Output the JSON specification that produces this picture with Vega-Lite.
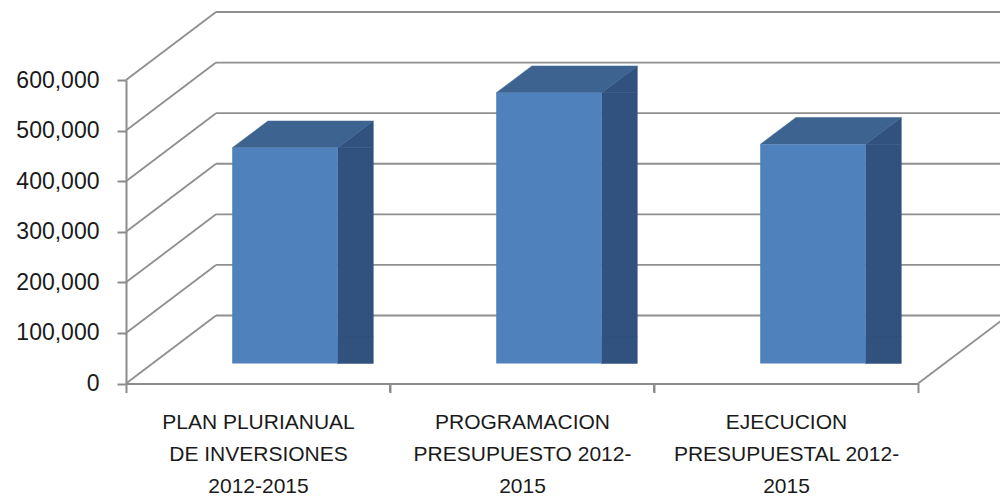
{
  "$schema": "https://vega.github.io/schema/vega-lite/v6.json",
  "autosize": {"type": "none"},
  "width": 792,
  "height": 303.5,
  "padding": {"left": 126, "top": 80, "right": 82, "bottom": 114.5},
  "background": "white",
  "config": {
    "view": {"stroke": null},
    "axis": {"labelFont": "Liberation Sans", "labelColor": "#1a1a1a", "domainColor": "#8c8c8c", "tickColor": "#8c8c8c", "domainWidth": 2, "tickWidth": 2, "tickSize": 9, "grid": false, "title": null}
  },
  "datasets": {
    "budget": [
      {"categoria": "PLAN PLURIANUAL DE INVERSIONES 2012-2015", "valor": 426600},
      {"categoria": "PROGRAMACION PRESUPUESTO 2012-2015", "valor": 535400},
      {"categoria": "EJECUCION PRESUPUESTAL 2012-2015", "valor": 433400}
    ],
    "grid": [
      {"v": 0}, {"v": 100000}, {"v": 200000}, {"v": 300000}, {"v": 400000}, {"v": 500000}, {"v": 600000}
    ]
  },
  "resolve": {"scale": {"x": "independent"}},
  "layer": [
    {
      "data": {"name": "grid"},
      "layer": [
        {
          "mark": {"type": "rule", "color": "#8f8f8f", "strokeWidth": 1.8, "xOffset": 90, "x2Offset": 90, "yOffset": -68},
          "encoding": {
            "x": {"datum": 0, "type": "quantitative", "scale": {"domain": [0, 3], "nice": false, "zero": false}, "axis": null},
            "x2": {"datum": 3},
            "y": {"field": "v", "type": "quantitative", "scale": {"domain": [0, 600000], "nice": false}, "axis": {"values": [0, 100000, 200000, 300000, 400000, 500000, 600000], "format": ",.0f", "labelFontSize": 23, "labelPadding": 18, "title": null}}
          }
        },
        {
          "mark": {"type": "rule", "color": "#8f8f8f", "strokeWidth": 1.8, "x2Offset": 90, "y2Offset": -68},
          "encoding": {
            "x": {"datum": 0, "type": "quantitative", "scale": {"domain": [0, 3], "nice": false, "zero": false}, "axis": null},
            "x2": {"datum": 0},
            "y": {"field": "v", "type": "quantitative", "scale": {"domain": [0, 600000], "nice": false}, "axis": {"values": [0, 100000, 200000, 300000, 400000, 500000, 600000], "format": ",.0f", "labelFontSize": 23, "labelPadding": 18, "title": null}},
            "y2": {"field": "v"}
          }
        },
        {
          "transform": [{"filter": "datum.v == 0"}],
          "mark": {"type": "rule", "color": "#8f8f8f", "strokeWidth": 1.8, "x2Offset": 90, "y2Offset": -68},
          "encoding": {
            "x": {"datum": 3, "type": "quantitative", "scale": {"domain": [0, 3], "nice": false, "zero": false}, "axis": null},
            "x2": {"datum": 3},
            "y": {"field": "v", "type": "quantitative", "scale": {"domain": [0, 600000], "nice": false}, "axis": {"values": [0, 100000, 200000, 300000, 400000, 500000, 600000], "format": ",.0f", "labelFontSize": 23, "labelPadding": 18, "title": null}},
            "y2": {"field": "v"}
          }
        }
      ]
    },
    {
      "data": {"name": "budget"},
      "encoding": {
        "x": {"field": "categoria", "type": "nominal", "sort": ["PLAN PLURIANUAL DE INVERSIONES 2012-2015", "PROGRAMACION PRESUPUESTO 2012-2015", "EJECUCION PRESUPUESTAL 2012-2015"], "scale": {"paddingInner": 0, "paddingOuter": 0},
          "axis": {"labelAngle": 0, "tickBand": "extent", "labelFontSize": 21, "labelPadding": 19, "labelLineHeight": 32, "labelLimit": 0, "labelBaseline": "top", "title": null,
            "labelExpr": "datum.value == 'PLAN PLURIANUAL DE INVERSIONES 2012-2015' ? ['PLAN PLURIANUAL', 'DE INVERSIONES', '2012-2015'] : datum.value == 'PROGRAMACION PRESUPUESTO 2012-2015' ? ['PROGRAMACION', 'PRESUPUESTO 2012-', '2015'] : datum.value == 'EJECUCION PRESUPUESTAL 2012-2015' ? ['EJECUCION', 'PRESUPUESTAL 2012-', '2015'] : ''"}}
      },
      "layer": [
        {
          "transform": [{"filter": "datum.categoria != 'PLAN PLURIANUAL DE INVERSIONES 2012-2015'"}],
          "mark": {"type": "bar", "width": 2, "xOffset": -132, "color": "#8c8c8c"},
          "encoding": {
            "y": {"datum": 0, "type": "quantitative", "scale": {"domain": [0, 600000], "nice": false}, "axis": {"values": [0, 100000, 200000, 300000, 400000, 500000, 600000], "format": ",.0f", "labelFontSize": 23, "labelPadding": 18, "title": null}},
            "y2": {"datum": -17800}
          }
        },
        {
          "mark": {"type": "bar", "width": 35.6, "xOffset": 97.5, "yOffset": -20, "y2Offset": -46.7, "color": "#31527e", "stroke": "#31527e", "strokeWidth": 0.5},
          "encoding": {
            "y": {"field": "valor", "type": "quantitative", "scale": {"domain": [0, 600000], "nice": false}, "axis": {"values": [0, 100000, 200000, 300000, 400000, 500000, 600000], "format": ",.0f", "labelFontSize": 23, "labelPadding": 18, "title": null}}
          }
        },
        {
          "mark": {"type": "point", "filled": true, "opacity": 1, "size": 4, "xOffset": 27, "yOffset": -20, "shape": "M52.7,0L88.3,-26.7L88.3,0Z", "color": "#31527e", "stroke": "#31527e", "strokeWidth": 0.5},
          "encoding": {
            "y": {"field": "valor", "type": "quantitative", "scale": {"domain": [0, 600000], "nice": false}, "axis": {"values": [0, 100000, 200000, 300000, 400000, 500000, 600000], "format": ",.0f", "labelFontSize": 23, "labelPadding": 18, "title": null}}
          }
        },
        {
          "mark": {"type": "point", "filled": true, "opacity": 1, "size": 4, "xOffset": 27, "yOffset": -20, "shape": "M52.7,-26.7L52.7,0L88.3,-26.7Z", "color": "#31527e", "stroke": "#31527e", "strokeWidth": 0.5},
          "encoding": {
            "y": {"datum": 0, "type": "quantitative", "scale": {"domain": [0, 600000], "nice": false}, "axis": {"values": [0, 100000, 200000, 300000, 400000, 500000, 600000], "format": ",.0f", "labelFontSize": 23, "labelPadding": 18, "title": null}}
          }
        },
        {
          "mark": {"type": "point", "filled": true, "opacity": 1, "size": 4, "xOffset": 27, "yOffset": -20, "shape": "M-52.7,0L52.7,0L88.3,-26.7L-17.1,-26.7Z", "color": "#3d6491", "stroke": "#3d6491", "strokeWidth": 0.5},
          "encoding": {
            "y": {"field": "valor", "type": "quantitative", "scale": {"domain": [0, 600000], "nice": false}, "axis": {"values": [0, 100000, 200000, 300000, 400000, 500000, 600000], "format": ",.0f", "labelFontSize": 23, "labelPadding": 18, "title": null}}
          }
        },
        {
          "mark": {"type": "bar", "width": {"band": 0.4}, "xOffset": 27, "yOffset": -20, "y2Offset": -20, "color": "#4f81bd"},
          "encoding": {
            "y": {"field": "valor", "type": "quantitative", "scale": {"domain": [0, 600000], "nice": false}, "axis": {"values": [0, 100000, 200000, 300000, 400000, 500000, 600000], "format": ",.0f", "labelFontSize": 23, "labelPadding": 18, "title": null}}
          }
        }
      ]
    }
  ]
}
